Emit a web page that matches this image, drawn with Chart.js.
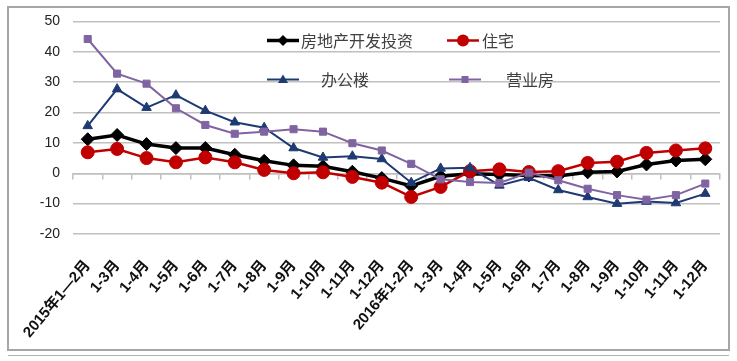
<!DOCTYPE html>
<html><head><meta charset="utf-8">
<script src="https://cdn.jsdelivr.net/npm/chart.js@4/dist/chart.umd.min.js"></script>
<style>
html,body{margin:0;padding:0;background:#fff;}
#wrap{position:relative;width:737px;height:361px;overflow:hidden;background:#fff;}
#frame{position:absolute;left:7px;top:6px;width:719px;height:341px;border:2px solid #a6a6a6;}
#line2{position:absolute;left:8px;top:355px;width:721px;height:1px;background:#b0b0b0;}
canvas{position:absolute;left:0;top:0;}
.lg{position:absolute;height:22px;display:flex;align-items:center;font-family:"Noto Sans CJK SC",sans-serif;font-size:16px;color:#404040;white-space:nowrap;}
.lg svg{display:block;}
</style></head>
<body><div id="wrap"><div id="frame"></div><div id="line2"></div><canvas id="c" width="737" height="361"></canvas><div id="legend"></div></div>
<script>
const categories = ["2015年1—2月","1-3月","1-4月","1-5月","1-6月","1-7月","1-8月","1-9月","1-10月","1-11月","1-12月",
  "2016年1-2月","1-3月","1-4月","1-5月","1-6月","1-7月","1-8月","1-9月","1-10月","1-11月","1-12月"];
const seriesNames = ["房地产开发投资","住宅","办公楼","营业房"];
const investment = [11.2,12.6,9.6,8.3,8.3,6.1,4.1,2.6,2.3,0.5,-1.6,-4.2,-1.0,-0.2,-0.4,-0.7,-0.9,0.3,0.6,2.9,4.2,4.6];
const residential = [6.9,8.0,5.0,3.6,5.2,3.6,1.1,0.0,0.3,-1.2,-3.1,-7.8,-4.5,0.7,1.3,0.4,0.7,3.4,3.8,6.7,7.5,8.2];
const office = [15.6,27.7,21.6,25.7,20.6,16.8,15.0,8.3,5.2,5.6,4.7,-3.1,1.6,1.8,-4.0,-1.5,-5.5,-7.8,-10.0,-9.3,-9.8,-6.7];
const commercial = [44.2,32.8,29.5,21.4,15.9,13.0,13.7,14.5,13.7,9.9,7.5,3.1,-2.0,-2.9,-3.2,0.2,-2.3,-5.1,-7.2,-8.7,-7.2,-3.4];
const yTicks = [50,40,30,20,10,0,-10,-20];

const styles = [
  {color:'#000000', width:3.5, point:'rectRot', r:6.5, order:4},
  {color:'#C00000', width:2.5, point:'circle', r:6.5, order:3},
  {color:'#1F3A73', width:2, point:'triangle', r:5.5, order:2},
  {color:'#8064A2', width:2, point:'rect', r:5, order:1}
];
const values = [investment, residential, office, commercial];

const datasets = values.map((v,i)=>({
  label: seriesNames[i], data: v,
  borderColor: styles[i].color, backgroundColor: styles[i].color,
  borderWidth: styles[i].width, pointStyle: styles[i].point,
  pointRadius: styles[i].r, pointBorderWidth: 1, pointBackgroundColor: styles[i].color,
  pointBorderColor: styles[i].color, tension: 0, order: styles[i].order
}));

const tickFont = {family:'"Liberation Sans","Noto Sans CJK SC",sans-serif', size:15, weight:'bold'};

new Chart(document.getElementById('c'), {
  type:'line',
  data:{labels:categories, datasets},
  options:{
    responsive:false, animation:false, devicePixelRatio:1,
    layout:{padding:{left:8,right:17,top:19,bottom:8}},
    plugins:{legend:{display:false}, tooltip:{enabled:false}},
    scales:{
      x:{type:'category', offset:true, grid:{display:false}, border:{display:false},
        ticks:{maxRotation:50, minRotation:50, autoSkip:false, font:tickFont, color:'#111', padding:15},
        afterFit(s){ s.height = 119; }},
      x0:{type:'category', axis:'x', position:{y:0}, offset:true,
        grid:{offset:true, drawOnChartArea:false, drawTicks:true, tickLength:5, color:'#bfbfbf', lineWidth:1.5},
        border:{display:true, color:'#bfbfbf', width:1.5}, ticks:{display:false},
        afterFit(s){ s.height = 0; }},
      y:{min:-20, max:50, afterBuildTicks(s){ s.ticks = yTicks.map(v=>({value:v})); },
        ticks:{font:{family:'"Liberation Sans",sans-serif', size:14}, color:'#222', padding:13},
        grid:{color:'#c0c0c0', lineWidth:1.5, drawTicks:false}, border:{display:false},
        afterFit(s){ s.width = 65; }}
    }
  }
});

// Legend (HTML overlay), built from the series names and styles
const legendPos = [
  {left:267, top:29, gap:2},
  {left:447, top:29, gap:3},
  {left:267, top:68, gap:22},
  {left:449, top:68, gap:25}
];
function markerSvg(st){
  const c = st.color; let m = '';
  if (st.point==='rectRot') m = `<polygon points="16,2 21.5,7.5 16,13 10.5,7.5" fill="${c}"/>`;
  else if (st.point==='circle') m = `<circle cx="16" cy="7.5" r="6" fill="${c}"/>`;
  else if (st.point==='triangle') m = `<polygon points="16,2.5 21,11 11,11" fill="${c}"/>`;
  else m = `<rect x="12.5" y="4" width="7" height="7" fill="${c}"/>`;
  return `<svg width="32" height="15"><line x1="0" y1="7.5" x2="32" y2="7.5" stroke="${c}" stroke-width="${st.width}"/>${m}</svg>`;
}
const lg = document.getElementById('legend');
seriesNames.forEach((n,i)=>{
  const d = document.createElement('div');
  d.className='lg'; d.style.left=legendPos[i].left+'px'; d.style.top=legendPos[i].top+'px';
  d.innerHTML = markerSvg(styles[i]) + `<span style="margin-left:${legendPos[i].gap}px">${n}</span>`;
  lg.appendChild(d);
});
</script>
</body></html>
